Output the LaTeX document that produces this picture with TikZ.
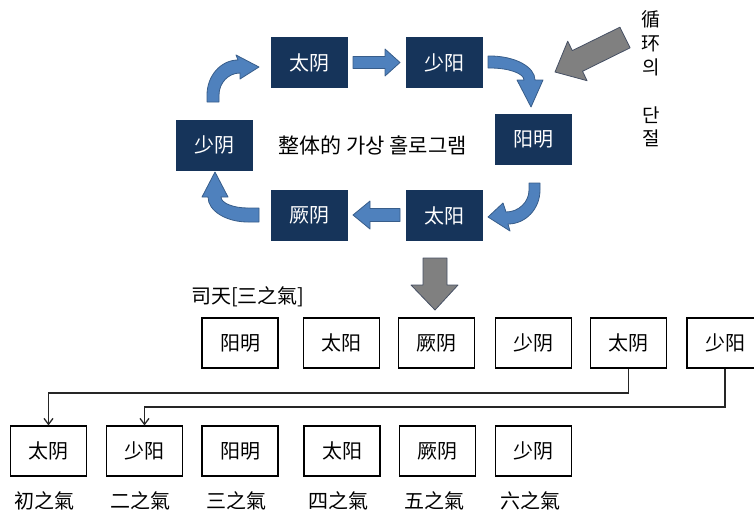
\documentclass[tikz,border=0pt]{standalone}
\usepackage{fontspec}
\setmainfont{Noto Sans CJK SC}
\usetikzlibrary{arrows.meta}
\definecolor{navy}{RGB}{22,52,90}
\definecolor{abl}{RGB}{79,129,189}
\definecolor{abd}{RGB}{56,93,138}
\definecolor{gfill}{RGB}{128,128,128}
\definecolor{gline}{RGB}{70,80,100}
\begin{document}
\begin{tikzpicture}[x=1pt,y=-1pt,
 dbox/.style={rectangle, fill=navy, text=white, minimum width=77pt, minimum height=51pt, inner sep=0pt, font=\fontsize{20}{24}\selectfont},
 wbox/.style={rectangle, draw=black, line width=1.1pt, fill=white, minimum width=76pt, minimum height=50pt, inner sep=0pt, font=\fontsize{20}{24}\selectfont},
 lbl/.style={font=\fontsize{20}{24}\selectfont, inner sep=0pt},
 barrow/.style={fill=abl, draw=abd, line width=0.8pt, line join=round},
 garrow/.style={fill=gfill, draw=gline, line width=0.8pt, line join=round},
 conn/.style={draw=black!85, line width=1.3pt, -{Straight Barb[length=6pt,width=9pt]}}]
\useasboundingbox (0,0) rectangle (754,515);

% top cycle boxes
\node[dbox] (tyT) at (309.5,62.5) {太阴};
\node[dbox] (syT) at (444.5,62.5) {少阳};
\node[dbox] (ymT) at (533.5,139) {阳明};
\node[dbox] (sinT) at (214.5,145) {少阴};
\node[dbox] (jyT) at (309.5,215.5) {厥阴};
\node[dbox] (tgT) at (444.5,215.5) {太阳};

\node[inner sep=0pt, font=\fontsize{21}{24}\selectfont] (holo) at (372.5,145) {整体的 가상 홀로그램};

% straight block arrows
\draw[barrow] (353,56.5) -- (385,56.5) -- (385,49) -- (400,62.5) -- (385,76) -- (385,68.5) -- (353,68.5) -- cycle;
\draw[barrow] (400,208.5) -- (370,208.5) -- (370,201) -- (353,215) -- (370,229) -- (370,221.5) -- (400,221.5) -- cycle;

% curved block arrows
% top right
\draw[barrow] (488,56) -- (490,56) .. controls (514.8,56) and (535,66.8) .. (535,80)
  -- (543,80) -- (531,107) -- (517,80) -- (524,80)
  .. controls (524,73.4) and (508.8,68) .. (490,68) -- (488,68) -- cycle;
% bottom right
\draw[barrow] (529,183) -- (540,183) -- (540,190) .. controls (540,208.8) and (525.7,224) .. (508,224)
  -- (510,231) -- (488,217) -- (503,203) -- (506,212)
  .. controls (518.7,212) and (529,202) .. (529,190) -- cycle;
% bottom left
\draw[barrow] (259,208) -- (248,208) .. controls (233,208) and (221,203) .. (221,197)
  -- (228,197) -- (215,172) -- (202,197) -- (208,197)
  .. controls (208,210.8) and (226,222) .. (248,222) -- (259,222) -- cycle;
% top left
\draw[barrow] (207,102) -- (207,95) .. controls (207,75.7) and (220.9,60) .. (238,60)
  -- (236,55) -- (259,67) -- (240,79) -- (240,73)
  .. controls (228.4,73) and (219,82.9) .. (219,95) -- (219,102) -- cycle;

% gray arrows
\draw[garrow] (555,72) -- (567.7,41.2) -- (572.3,50.6) -- (619.9,27.2) -- (630.1,47.8) -- (582.5,71.3) -- (587.1,80.7) -- cycle;
\draw[garrow] (423,258) -- (447,258) -- (447,285) -- (458,285) -- (435,310) -- (411,285) -- (423,285) -- cycle;

\node[align=center, inner sep=0pt, font=\fontsize{19}{23.8}\selectfont] (cut) at (651,79) {循\\环\\의\\[23.8pt]단\\절};

\node[lbl, anchor=west] (sitian) at (191,297) {司天[三之氣]};

% row 1
\node[wbox] (r1) at (240,343) {阳明};
\node[wbox] (r2) at (341.5,343) {太阳};
\node[wbox] (r3) at (436.5,343) {厥阴};
\node[wbox] (r4) at (533.5,343) {少阴};
\node[wbox] (r5) at (628.5,343) {太阴};
\node[wbox] (r6) at (725,343) {少阳};

% row 2
\node[wbox] (b1) at (48.5,451) {太阴};
\node[wbox] (b2) at (144.5,451) {少阳};
\node[wbox] (b3) at (240,451) {阳明};
\node[wbox] (b4) at (342,451) {太阳};
\node[wbox] (b5) at (437.5,451) {厥阴};
\node[wbox] (b6) at (533.5,451) {少阴};

\node[lbl] (l1) at (44,501) {初之氣};
\node[lbl] (l2) at (140.5,501) {二之氣};
\node[lbl] (l3) at (236,501) {三之氣};
\node[lbl] (l4) at (338,501) {四之氣};
\node[lbl] (l5) at (434,501) {五之氣};
\node[lbl] (l6) at (530,501) {六之氣};

% connectors
\draw[conn] (r5.south) -- (r5.south |- 0,393) -- (b1.north |- 0,393) -- (b1.north);
\draw[conn] (r6.south) -- (r6.south |- 0,407) -- (b2.north |- 0,407) -- (b2.north);
\end{tikzpicture}
\end{document}
